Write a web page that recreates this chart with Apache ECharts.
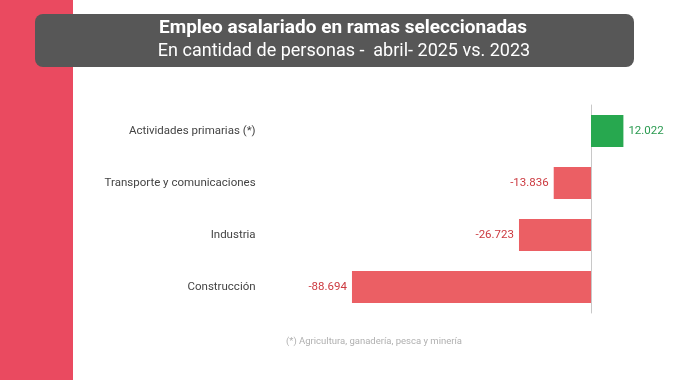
<!DOCTYPE html>
<html><head><meta charset="utf-8">
<script src="https://cdn.jsdelivr.net/npm/echarts@6/dist/echarts.min.js"></script>
<style>html,body{margin:0;padding:0;background:#fff}#c{width:680px;height:380px}</style>
</head><body><div id="c"></div>
<script>
const categories = ['Actividades primarias (*)', 'Transporte y comunicaciones', 'Industria', 'Construcción'];
const values = [12022, -13836, -26723, -88694];
const titleText = 'Empleo asalariado en ramas seleccionadas';
const subtitleText = 'En cantidad de personas -  abril- 2025 vs. 2023';
const footnote = '(*) Agricultura, ganadería, pesca y minería';

const fmt = v => (v < 0 ? '-' : '') + Math.abs(v).toLocaleString('de-DE');
const chart = echarts.init(document.getElementById('c'));
const FONT = 'Roboto';
chart.setOption({
  animation: false,
  textStyle: { fontFamily: FONT },
  graphic: [
    { type: 'rect', shape: { x: 0, y: 0, width: 73, height: 380 }, style: { fill: '#ea4a60' }, z: 0 },
    { type: 'rect', shape: { x: 35, y: 14, width: 599, height: 53, r: 8 }, style: { fill: '#575757' }, z: 1 },
    { type: 'text', x: 343, y: 28, z: 2, style: { text: titleText, fill: '#fff', font: 'bold 19px ' + FONT, textAlign: 'center', textVerticalAlign: 'middle' } },
    { type: 'text', x: 344, y: 51, z: 2, style: { text: subtitleText, fill: '#fff', font: '18px ' + FONT, textAlign: 'center', textVerticalAlign: 'middle' } },
    { type: 'text', x: 374, y: 342, z: 2, style: { text: footnote, fill: '#b0b0b0', font: '9.5px ' + FONT, textAlign: 'center', textVerticalAlign: 'middle' } }
  ],
  grid: { left: 267.6, right: 35.1, top: 105, bottom: 67, containLabel: false },
  xAxis: { type: 'value', min: -120000, max: 20000, show: false },
  yAxis: {
    type: 'category', data: categories, inverse: true,
    axisLine: { show: true, onZero: true, lineStyle: { color: '#c8c8c8', width: 1 } },
    axisTick: { show: false },
    axisLabel: { color: '#444', fontSize: 11.5, margin: 12, fontFamily: FONT },
    position: 'left'
  },
  series: [{
    type: 'bar', barWidth: 32,
    data: values.map(v => ({
      value: v,
      itemStyle: { color: v >= 0 ? '#27a84f' : '#eb5f64' },
      label: { position: v >= 0 ? 'right' : 'left', color: v >= 0 ? '#2a9a50' : '#cc3a40' }
    })),
    label: { show: true, fontSize: 11.5, fontFamily: FONT, distance: 5, formatter: p => fmt(p.value) }
  }]
});
</script></body></html>
